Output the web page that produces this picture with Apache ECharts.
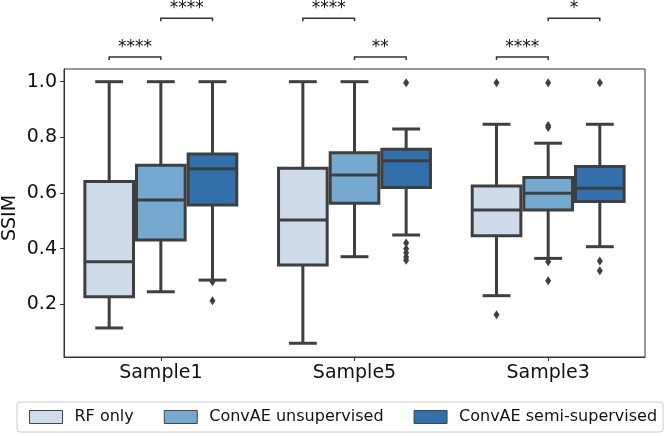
<!DOCTYPE html>
<html><head><meta charset="utf-8">
<script src="https://cdn.jsdelivr.net/npm/echarts@6/dist/echarts.min.js"></script>
<style>html,body{margin:0;padding:0;background:#fff}#c{width:667px;height:436px}</style>
</head><body><div id="c"></div>
<script>
// ---- data ----
const categories = ['Sample1', 'Sample5', 'Sample3'];
const hues = ['RF only', 'ConvAE unsupervised', 'ConvAE semi-supervised'];
const yTicks = [0.2, 0.4, 0.6, 0.8, 1.0];
const yTitle = 'SSIM';
// [lower whisker, Q1, median, Q3, upper whisker] per category
const rfStats = [[0.115, 0.227, 0.353, 0.641, 1.0], [0.060, 0.341, 0.503, 0.689, 1.0], [0.231, 0.446, 0.539, 0.625, 0.847]];
const unsupStats = [[0.245, 0.431, 0.575, 0.700, 1.0], [0.371, 0.563, 0.665, 0.745, 1.0], [0.365, 0.539, 0.599, 0.656, 0.779]];
const semiStats = [[0.287, 0.557, 0.687, 0.740, 1.0], [0.449, 0.620, 0.716, 0.757, 0.830], [0.407, 0.569, 0.617, 0.695, 0.847]];
const rfOutliers = [[], [], [0.996, 0.162]];
const unsupOutliers = [[], [], [0.996, 0.843, 0.835, 0.353, 0.285]];
const semiOutliers = [[0.281, 0.213], [0.996, 0.420, 0.400, 0.385, 0.370, 0.358], [0.996, 0.356, 0.321]];
// significance annotations
const sigCategory = [0, 0, 1, 1, 2, 2];
const sigHueA = [0, 1, 0, 1, 0, 1];
const sigHueB = [1, 2, 1, 2, 1, 2];
const sigLevel = [0, 1, 1, 0, 0, 1];
const sigLabel = ['****', '****', '****', '**', '****', '*'];

// ---- styling ----
const stats = [rfStats, unsupStats, semiStats];
const outliers = [rfOutliers, unsupOutliers, semiOutliers];
const colors = ['#cddbea', '#75a9cf', '#3170aa'];
const LINE = '#3f3f3f';
const FONT = 'DejaVu Sans';
const Y_MIN = 0.0106, Y_MAX = 1.0456;
const bracketLineY = [1.089, 1.228];
const bracketTick = 0.011;

const chart = echarts.init(document.getElementById('c'), null, {renderer: 'canvas'});

function boxSeries(k) {
  return {
    type: 'custom',
    name: hues[k],
    itemStyle: {color: colors[k]},
    data: categories.map((c, i) => [i].concat(stats[k][i])),
    encode: {x: 0, y: [1, 2, 3, 4, 5]},
    z: 3,
    renderItem: function (params, api) {
      const i = api.value(0);
      const band = api.size([1, 0])[0];
      const bw = band * 0.8 / 3;
      const cx = api.coord([i, 0])[0] + (k - 1) * bw;
      const Y = v => api.coord([i, v])[1];
      const lo = api.value(1), q1 = api.value(2), med = api.value(3), q3 = api.value(4), hi = api.value(5);
      const half = bw / 2 - 1.5;
      const cap = bw * 0.27;
      const ls = {stroke: LINE, lineWidth: 3};
      const children = [
        {type: 'line', shape: {x1: cx, y1: Y(q1), x2: cx, y2: Y(lo)}, style: ls},
        {type: 'line', shape: {x1: cx, y1: Y(q3), x2: cx, y2: Y(hi)}, style: ls},
        {type: 'line', shape: {x1: cx - cap, y1: Y(lo), x2: cx + cap, y2: Y(lo)}, style: ls},
        {type: 'line', shape: {x1: cx - cap, y1: Y(hi), x2: cx + cap, y2: Y(hi)}, style: ls},
        {type: 'rect', shape: {x: cx - half, y: Y(q3), width: half * 2, height: Y(q1) - Y(q3)},
          style: {fill: colors[k], stroke: LINE, lineWidth: 3}},
        {type: 'line', shape: {x1: cx - half, y1: Y(med), x2: cx + half, y2: Y(med)}, style: ls}
      ];
      outliers[k][i].forEach(v => {
        const py = Y(v);
        children.push({type: 'polygon', shape: {points: [[cx, py - 4.5], [cx + 3, py], [cx, py + 4.5], [cx - 3, py]]},
          style: {fill: LINE, stroke: null}});
      });
      return {type: 'group', children: children};
    }
  };
}

const bracketSeries = {
  type: 'custom',
  name: 'sig',
  clip: false,
  silent: true,
  z: 5,
  data: sigCategory.map((c, j) => [c, j]),
  encode: {x: 0},
  renderItem: function (params, api) {
    const j = api.value(1);
    const i = api.value(0);
    const band = api.size([1, 0])[0];
    const bw = band * 0.8 / 3;
    const c0 = api.coord([i, 0])[0];
    const xa = c0 + (sigHueA[j] - 1) * bw;
    const xb = c0 + (sigHueB[j] - 1) * bw;
    const yl = api.coord([i, bracketLineY[sigLevel[j]]])[1];
    const yt = api.coord([i, bracketLineY[sigLevel[j]] - bracketTick])[1];
    const ls = {stroke: '#333', lineWidth: 1.5, fill: null};
    return {type: 'group', children: [
      {type: 'polyline', shape: {points: [[xa, yt], [xa, yl], [xb, yl], [xb, yt]]}, style: ls},
      {type: 'text', style: {text: sigLabel[j], x: (xa + xb) / 2, y: yl - 1, align: 'center', verticalAlign: 'bottom',
        fontSize: 17, fontFamily: FONT, fill: '#111'}}
    ]};
  }
};

chart.setOption({
  animation: false,
  backgroundColor: '#fff',
  color: colors,
  grid: {left: 64, right: 22, top: 69, bottom: 79, show: true, borderColor: '#333', borderWidth: 1,
    backgroundColor: 'transparent', containLabel: false, outerBoundsMode: 'none'},
  graphic: [{
    type: 'text', left: 1, top: 'middle', rotation: Math.PI / 2, z: 10,
    style: {text: yTitle, fontSize: 19, fontFamily: FONT, fill: '#111'}
  }],
  xAxis: {
    type: 'category', data: categories,
    axisLine: {show: true, lineStyle: {color: '#333', width: 1}},
    axisTick: {show: true, alignWithLabel: true, length: 4, lineStyle: {color: '#333'}},
    axisLabel: {fontSize: 19, color: '#111', fontFamily: FONT, margin: 7},
    splitLine: {show: false}
  },
  yAxis: {
    type: 'value', min: Y_MIN, max: Y_MAX,
    splitLine: {show: false},
    axisLine: {show: true, lineStyle: {color: '#333', width: 1}},
    axisTick: {show: true, length: 4, customValues: yTicks, lineStyle: {color: '#333'}},
    axisLabel: {customValues: yTicks, formatter: v => v.toFixed(1), fontSize: 19, color: '#111', fontFamily: FONT, margin: 7}
  },
  legend: {
    data: hues, left: 17, top: 402, width: 660, icon: 'rect', itemWidth: 33, itemHeight: 13, itemGap: 30,
    selectedMode: false,
    padding: [7, 6, 7, 12], borderColor: '#ccc', borderWidth: 1, borderRadius: 3,
    textStyle: {fontSize: 16, color: '#111', fontFamily: FONT, padding: [0, 0, 0, 7]},
    itemStyle: {borderColor: '#444', borderWidth: 1}
  },
  series: [boxSeries(0), boxSeries(1), boxSeries(2), bracketSeries]
});
</script></body></html>
